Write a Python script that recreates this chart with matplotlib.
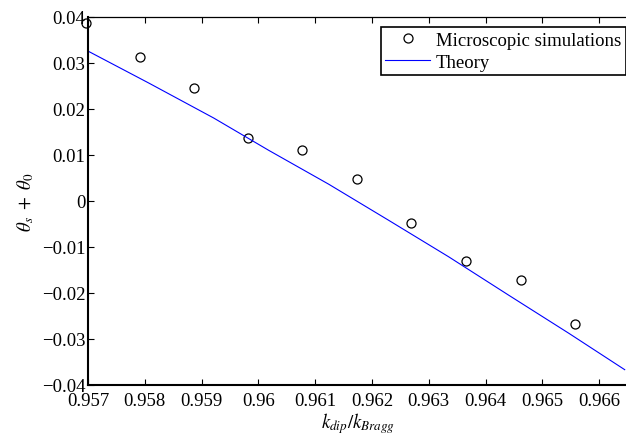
import matplotlib
matplotlib.use("Agg")
import matplotlib.pyplot as plt

plt.rcParams['font.family'] = ['Liberation Serif', 'DejaVu Serif']
plt.rcParams['mathtext.fontset'] = 'stix'

# microscopic simulation points
sim_x = [0.95697, 0.957915, 0.958873, 0.959824, 0.960775,
         0.961736, 0.962694, 0.963655, 0.964618, 0.965581]
sim_y = [0.0387, 0.0314, 0.0245, 0.0136, 0.0110,
         0.0048, -0.0048, -0.0130, -0.0172, -0.0267]

# theory curve
theory_x = [0.95698, 0.958069, 0.959213, 0.960181, 0.961238,
            0.962294, 0.963350, 0.964407, 0.965463, 0.966449]
theory_y = [0.03272, 0.02565, 0.01804, 0.01102, 0.00365,
            -0.00420, -0.01213, -0.02048, -0.02874, -0.03667]

x_ticks = [0.957, 0.958, 0.959, 0.96, 0.961, 0.962, 0.963, 0.964, 0.965, 0.966]
x_tick_labels = ['0.957', '0.958', '0.959', '0.96', '0.961',
                 '0.962', '0.963', '0.964', '0.965', '0.966']
y_ticks = [-0.04, -0.03, -0.02, -0.01, 0, 0.01, 0.02, 0.03, 0.04]
y_tick_labels = ['\u22120.04', '\u22120.03', '\u22120.02', '\u22120.01', '0',
                 '0.01', '0.02', '0.03', '0.04']

fig = plt.figure(figsize=(6.26, 4.39), dpi=100)
ax = fig.add_axes([88 / 626, 53 / 439, 539.6 / 626, 368 / 439])

ax.plot(sim_x, sim_y, 'o', mfc='none', mec='black', ms=6.5, mew=0.9,
        label='Microscopic simulations', clip_on=False)
ax.plot(theory_x, theory_y, '-', color='#0000ff', lw=0.8, label='Theory')

ax.set_xlim(0.957, 0.9665)
ax.set_ylim(-0.04, 0.04)
ax.set_xticks(x_ticks)
ax.set_xticklabels(x_tick_labels)
ax.set_yticks(y_ticks)
ax.set_yticklabels(y_tick_labels)
ax.tick_params(direction='in', top=True, right=False, labelsize=13.5,
               length=4, width=0.8)
ax.tick_params(axis='x', pad=5)
ax.tick_params(axis='y', pad=2)

ax.spines['left'].set_linewidth(1.5)
ax.spines['bottom'].set_linewidth(1.5)
ax.spines['top'].set_linewidth(0.9)
ax.spines['right'].set_visible(False)

ax.set_xlabel(r'$k_{dip}/k_{Bragg}$', fontsize=13.5, labelpad=1)
ax.set_ylabel(r'$\theta_s\ +\ \theta_0$', fontsize=13.5, labelpad=4)

leg = ax.legend(loc='upper right', bbox_to_anchor=(1.0, 411 / 439),
                bbox_transform=fig.transFigure, borderaxespad=0,
                fontsize=13.5, fancybox=False, framealpha=1,
                handlelength=2.4, handletextpad=0.3, labelspacing=0.25,
                borderpad=0.25)
leg.get_frame().set_edgecolor('black')
leg.get_frame().set_linewidth(1.2)

fig.savefig('out.png', dpi=100)
